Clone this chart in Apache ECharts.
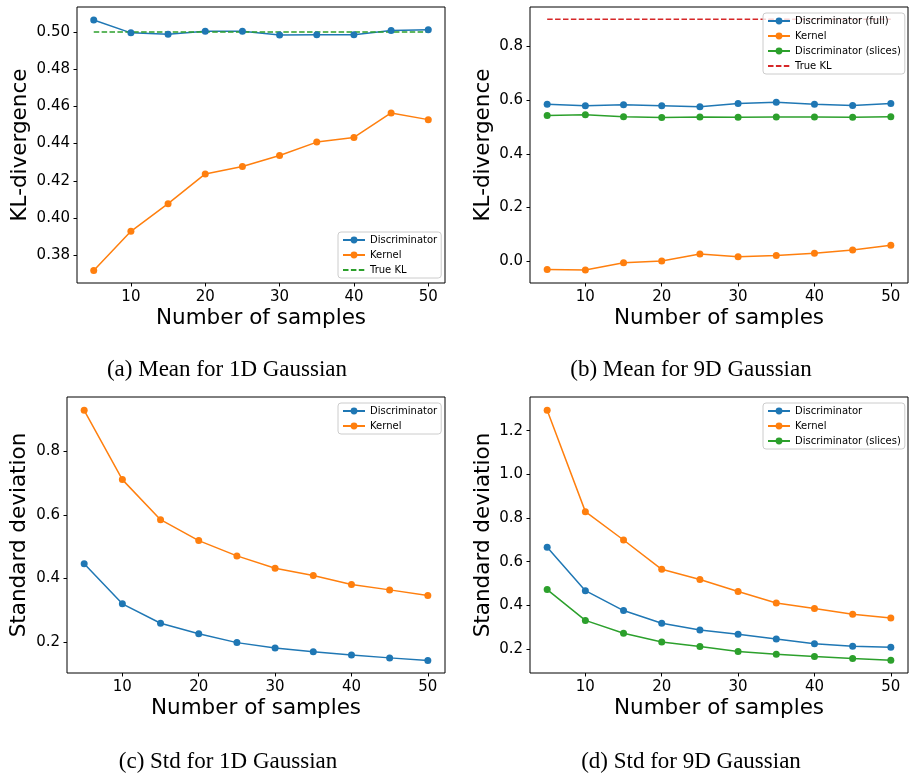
<!DOCTYPE html>
<html>
<head>
<meta charset="utf-8">
<script src="https://cdn.jsdelivr.net/npm/echarts@6/dist/echarts.min.js"></script>
<style>
html, body { margin: 0; padding: 0; background: #fff; }
#chart { width: 910px; height: 774px; }
</style>
</head>
<body>
<div id="chart"></div>
<script>
var samples = [5, 10, 15, 20, 25, 30, 35, 40, 45, 50];

// (a) mean, 1D gaussian
var meanDisc1D = [0.5065, 0.4996, 0.4989, 0.5004, 0.5004, 0.4984, 0.4986, 0.4986, 0.5009, 0.5013];
var meanKernel1D = [0.3717, 0.3928, 0.4077, 0.4237, 0.4277, 0.4336, 0.4408, 0.4433, 0.4565, 0.4529];
var trueKL1D = 0.5;

// (b) mean, 9D gaussian
var meanDiscFull9D = [0.584, 0.579, 0.582, 0.579, 0.575, 0.587, 0.592, 0.584, 0.580, 0.587];
var meanKernel9D = [-0.030, -0.032, -0.005, 0.001, 0.027, 0.017, 0.022, 0.030, 0.042, 0.060];
var meanDiscSlices9D = [0.542, 0.545, 0.538, 0.535, 0.537, 0.536, 0.537, 0.537, 0.536, 0.538];
var trueKL9D = 0.9;

// (c) std, 1D gaussian
var stdDisc1D = [0.446, 0.320, 0.259, 0.226, 0.198, 0.181, 0.169, 0.159, 0.150, 0.142];
var stdKernel1D = [0.929, 0.711, 0.585, 0.519, 0.471, 0.432, 0.409, 0.381, 0.364, 0.346];

// (d) std, 9D gaussian
var stdDisc9D = [0.666, 0.467, 0.376, 0.318, 0.287, 0.267, 0.246, 0.224, 0.212, 0.208];
var stdKernel9D = [1.293, 0.829, 0.699, 0.565, 0.518, 0.463, 0.411, 0.385, 0.359, 0.342];
var stdDiscSlices9D = [0.472, 0.331, 0.272, 0.232, 0.211, 0.189, 0.176, 0.165, 0.156, 0.148];

var xTicks = [10, 20, 30, 40, 50];
var yTicksA = [0.38, 0.40, 0.42, 0.44, 0.46, 0.48, 0.50];
var yTicksB = [0.0, 0.2, 0.4, 0.6, 0.8];
var yTicksC = [0.2, 0.4, 0.6, 0.8];
var yTicksD = [0.2, 0.4, 0.6, 0.8, 1.0, 1.2];

var captions = ['(a) Mean for 1D Gaussian', '(b) Mean for 9D Gaussian',
	'(c) Std for 1D Gaussian', '(d) Std for 9D Gaussian'];

var BLUE = '#1f77b4', ORANGE = '#ff7f0e', GREEN = '#2ca02c', RED = '#d62728';
var SANS = 'DejaVu Sans';

var panels = [
	{ grid: [77, 7, 368, 276], yMin: 0.365, yMax: 0.5135, ticks: yTicksA, digits: 2,
		yName: 'KL-divergence', yGap: 46, legend: [338, 232], cap: [227, 370] },
	{ grid: [530, 7, 378, 276], yMin: -0.0806, yMax: 0.946, ticks: yTicksB, digits: 1,
		yName: 'KL-divergence', yGap: 36, legend: [763, 13], cap: [691, 370] },
	{ grid: [67, 397, 378, 276], yMin: 0.1024, yMax: 0.971, ticks: yTicksC, digits: 1,
		yName: 'Standard deviation', yGap: 37, legend: [338, 403], cap: [228, 762] },
	{ grid: [530, 397, 378, 276], yMin: 0.090, yMax: 1.354, ticks: yTicksD, digits: 1,
		yName: 'Standard deviation', yGap: 36, legend: [763, 403], cap: [691, 762] }
];

function pts(vals) {
	return samples.map(function (x, i) { return [x, vals[i]]; });
}
function flat(v) {
	return samples.map(function (x) { return [x, v]; });
}

function lineSeries(name, idx, vals, color) {
	return {
		type: 'line', name: name, xAxisIndex: idx, yAxisIndex: idx,
		data: pts(vals), symbol: 'circle', symbolSize: 7,
		itemStyle: { color: color }, lineStyle: { color: color, width: 1.5 },
		animation: false
	};
}
function klSeries(idx, v, color) {
	return {
		type: 'line', name: 'True KL', xAxisIndex: idx, yAxisIndex: idx,
		data: flat(v), symbol: 'none',
		itemStyle: { color: color },
		lineStyle: { color: color, width: 1.5, type: [5.5, 2.4] },
		animation: false
	};
}

var series = [
	lineSeries('Discriminator', 0, meanDisc1D, BLUE),
	lineSeries('Kernel', 0, meanKernel1D, ORANGE),
	klSeries(0, trueKL1D, GREEN),
	lineSeries('Discriminator (full)', 1, meanDiscFull9D, BLUE),
	lineSeries('Kernel', 1, meanKernel9D, ORANGE),
	lineSeries('Discriminator (slices)', 1, meanDiscSlices9D, GREEN),
	klSeries(1, trueKL9D, RED),
	lineSeries('Discriminator', 2, stdDisc1D, BLUE),
	lineSeries('Kernel', 2, stdKernel1D, ORANGE),
	lineSeries('Discriminator', 3, stdDisc9D, BLUE),
	lineSeries('Kernel', 3, stdKernel9D, ORANGE),
	lineSeries('Discriminator (slices)', 3, stdDiscSlices9D, GREEN)
];

var legendData = [
	['Discriminator', 'Kernel', { name: 'True KL', itemStyle: { opacity: 0 } }],
	['Discriminator (full)', 'Kernel', 'Discriminator (slices)',
		{ name: 'True KL', itemStyle: { opacity: 0 }, lineStyle: { color: RED } }],
	['Discriminator', 'Kernel'],
	['Discriminator', 'Kernel', 'Discriminator (slices)']
];

var grids = [], xAxes = [], yAxes = [], legends = [], graphics = [];
panels.forEach(function (p, i) {
	grids.push({
		left: p.grid[0], top: p.grid[1], width: p.grid[2], height: p.grid[3],
		show: true, borderColor: '#000', borderWidth: 1, backgroundColor: 'transparent'
	});
	xAxes.push({
		type: 'value', gridIndex: i, min: 2.75, max: 52.25,
		name: 'Number of samples', nameLocation: 'middle', nameGap: 24,
		nameTextStyle: { fontFamily: SANS, fontSize: 21.5, color: '#000' },
		axisLine: { show: false, onZero: false }, splitLine: { show: false },
		axisTick: { show: true, length: 3.5, customValues: xTicks, lineStyle: { color: '#000' } },
		axisLabel: { customValues: xTicks, margin: 7, fontFamily: SANS, fontSize: 15, color: '#000' }
	});
	yAxes.push({
		type: 'value', gridIndex: i, min: p.yMin, max: p.yMax,
		name: p.yName, nameLocation: 'middle', nameGap: p.yGap,
		nameTextStyle: { fontFamily: SANS, fontSize: 21.5, color: '#000' },
		axisLine: { show: false, onZero: false }, splitLine: { show: false },
		axisTick: { show: true, length: 3.5, customValues: p.ticks, lineStyle: { color: '#000' } },
		axisLabel: {
			customValues: p.ticks, margin: 7, fontFamily: SANS, fontSize: 15, color: '#000',
			formatter: function (v) { return v.toFixed(p.digits); }
		}
	});
	legends.push({
		orient: 'vertical', left: p.legend[0], top: p.legend[1],
		data: legendData[i], selectedMode: false,
		itemWidth: 22, itemHeight: 8.5, itemGap: 5,
		padding: [3, 4, 3, 4],
		backgroundColor: 'rgba(255,255,255,0.8)', borderColor: '#ccc', borderWidth: 1, borderRadius: 3,
		textStyle: { fontFamily: SANS, fontSize: 10, color: '#000' }
	});
	graphics.push({
		type: 'text', x: p.cap[0], y: p.cap[1],
		style: {
			text: captions[i], font: '23px "Liberation Serif"', fill: '#000',
			textAlign: 'center', textVerticalAlign: 'middle'
		}
	});
});

var chart = echarts.init(document.getElementById('chart'));
chart.setOption({
	animation: false,
	grid: grids,
	xAxis: xAxes,
	yAxis: yAxes,
	legend: legends,
	series: series,
	graphic: graphics
});
</script>
</body>
</html>
